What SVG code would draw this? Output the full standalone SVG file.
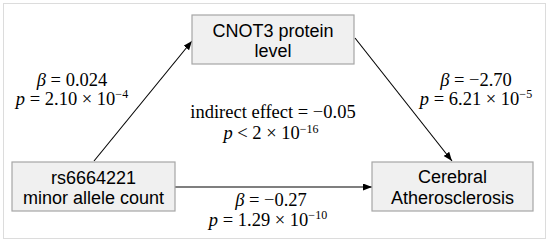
<svg xmlns="http://www.w3.org/2000/svg" width="550" height="242" viewBox="0 0 550 242">
<style>
.box{fill:#f0f0f0;stroke:#a6a6a6;stroke-width:1.2}
.lbl{font-family:"Liberation Sans",Arial,sans-serif;font-size:18px;fill:#000;text-anchor:middle}
.math{font-family:"Liberation Serif","Times New Roman",serif;font-size:18.5px;fill:#000;text-anchor:middle}
.it{font-style:italic}
.sup{font-size:12px}
.conn{stroke:#000;stroke-width:1.1;fill:none;marker-end:url(#ah)}
</style>
<defs>
<marker id="ah" markerUnits="userSpaceOnUse" markerWidth="10" markerHeight="8" refX="9" refY="3.5" orient="auto">
<path d="M0,0 L9,3.5 L0,7 Z" fill="#000"/>
</marker>
</defs>
<rect x="3.5" y="3.5" width="542" height="235" fill="#fff" stroke="#dcdcdc" stroke-width="1"/>
<g id="connectors">
<line class="conn" x1="94" y1="161" x2="192" y2="41"/>
<line class="conn" x1="355" y1="38" x2="452" y2="161"/>
<line class="conn" x1="175" y1="187" x2="372" y2="187"/>
</g>
<g id="cnot3">
<rect class="box" x="192" y="15" width="162" height="49"/>
<text class="lbl" x="273" y="36.5">CNOT3 protein</text>
<text class="lbl" x="273" y="56.5">level</text>
</g>
<g id="snp">
<rect class="box" x="12" y="162" width="163" height="49"/>
<text class="lbl" x="93.5" y="184">rs6664221</text>
<text class="lbl" x="93.5" y="204">minor allele count</text>
</g>
<g id="athero">
<rect class="box" x="372" y="162" width="161" height="49"/>
<text class="lbl" x="452.5" y="183">Cerebral</text>
<text class="lbl" x="452.5" y="203.5">Atherosclerosis</text>
</g>
<g id="labels">
<text class="math" x="72" y="86"><tspan class="it">β</tspan> = 0.024</text>
<text class="math" x="72" y="105"><tspan class="it">p</tspan> = 2.10 × 10<tspan class="sup" dy="-7">−4</tspan></text>
<text class="math" x="476" y="86"><tspan class="it">β</tspan> = −2.70</text>
<text class="math" x="476" y="105"><tspan class="it">p</tspan> = 6.21 × 10<tspan class="sup" dy="-7">−5</tspan></text>
<text class="math" x="273" y="118">indirect effect = −0.05</text>
<text class="math" x="271" y="139"><tspan class="it">p</tspan> &lt; 2 × 10<tspan class="sup" dy="-6.5">−16</tspan></text>
<text class="math" x="271" y="206"><tspan class="it">β</tspan> = −0.27</text>
<text class="math" x="268" y="226"><tspan class="it">p</tspan> = 1.29 × 10<tspan class="sup" dy="-7">−10</tspan></text>
</g>
</svg>
